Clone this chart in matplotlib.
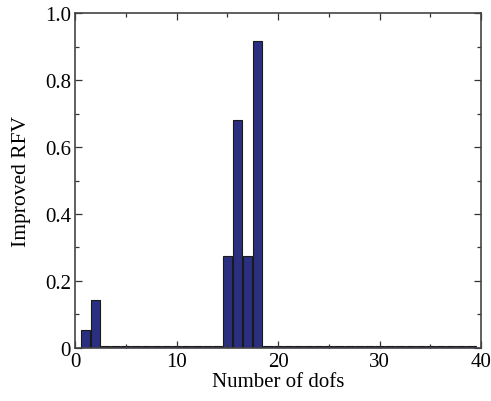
import matplotlib
matplotlib.use("Agg")
import matplotlib.pyplot as plt
from matplotlib.ticker import MultipleLocator, FuncFormatter

# number of dofs and improved RFV
dofs = list(range(1, 40))
rfv = [0.054, 0.144] + [0.006] * 12 + [0.274, 0.680, 0.274, 0.917] + [0.006] * 21

plt.rcParams["font.family"] = ["Liberation Serif", "DejaVu Serif"]

fig = plt.figure(figsize=(4.91, 4.02), dpi=100)
fig.patch.set_facecolor("white")
ax = fig.add_axes([0.153, 0.132, 0.827, 0.833])

ax.bar(dofs, rfv, width=0.9, color="#2b2f80", edgecolor="#1a1a1a", linewidth=0.8)

ax.set_xlim(0, 40)
ax.set_ylim(0, 1.0)
ax.xaxis.set_major_locator(MultipleLocator(10))
ax.xaxis.set_minor_locator(MultipleLocator(5))
ax.yaxis.set_major_locator(MultipleLocator(0.2))
ax.yaxis.set_minor_locator(MultipleLocator(0.1))
ax.yaxis.set_major_formatter(FuncFormatter(lambda v, p: "0" if abs(v) < 1e-9 else f"{v:.1f}"))

ax.tick_params(which="both", direction="in", top=True, right=True,
               colors="#333333", labelcolor="black", labelsize=15)
ax.tick_params(which="major", length=5, width=0.9, pad=3)
ax.tick_params(which="minor", length=3, width=0.9)
for s in ax.spines.values():
    s.set_color("#444444")
    s.set_linewidth(1.2)

ax.set_xlabel("Number of dofs", fontsize=15, labelpad=1)
ax.set_ylabel("Improved RFV", fontsize=15.5, labelpad=10)

fig.savefig("out.png", dpi=100)
